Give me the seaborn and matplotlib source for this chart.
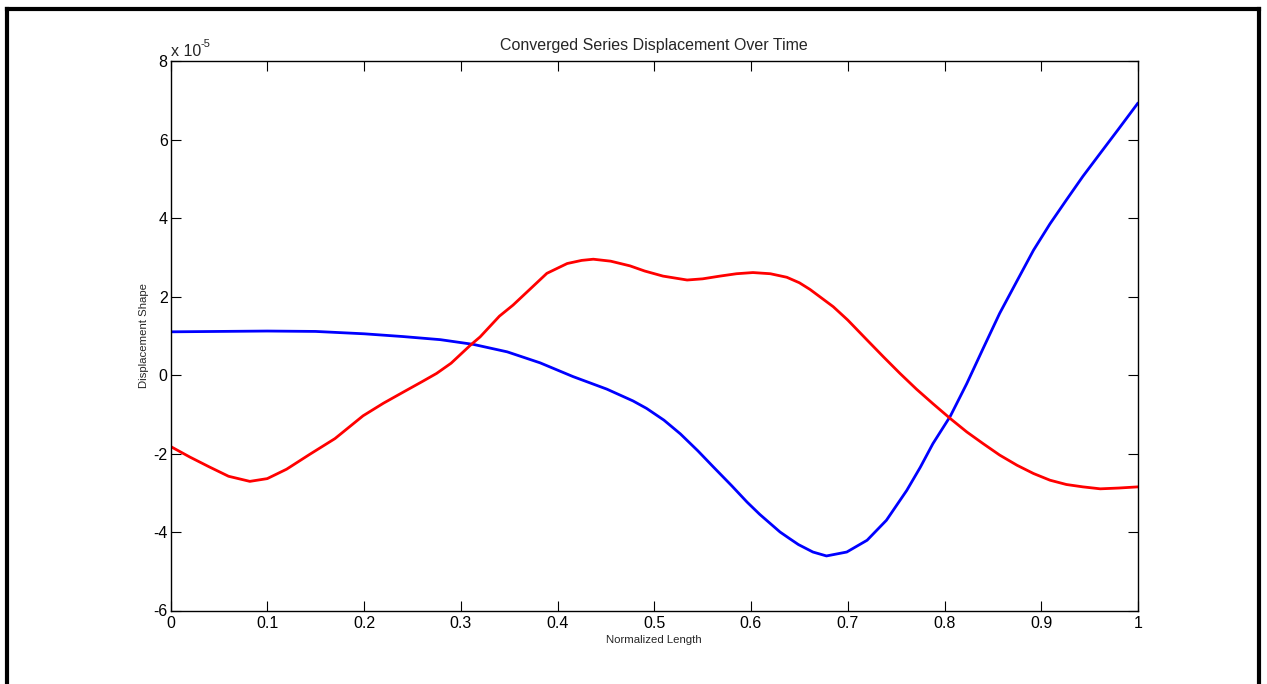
import numpy as np
import pandas as pd
import matplotlib
matplotlib.use("Agg")
import matplotlib.pyplot as plt
from matplotlib.lines import Line2D
import seaborn as sns

# ---- data (displacement in units of 1e-5) ----
blue_x = [0.0, 0.05, 0.10, 0.15, 0.20, 0.24, 0.279, 0.313, 0.348, 0.382, 0.416, 0.451,
          0.478, 0.492, 0.51, 0.527, 0.545, 0.561, 0.58, 0.596, 0.609, 0.63, 0.64,
          0.649, 0.664, 0.678, 0.699, 0.72, 0.74, 0.761, 0.775, 0.788, 0.806,
          0.823, 0.84, 0.857, 0.875, 0.892, 0.909, 0.926, 0.943, 0.961, 0.98, 1.0]
blue_y = [1.10, 1.11, 1.12, 1.11, 1.05, 0.98, 0.90, 0.78, 0.59, 0.31, -0.04, -0.36,
          -0.66, -0.85, -1.15, -1.50, -1.93, -2.34, -2.82, -3.24, -3.55, -4.00, -4.17,
          -4.32, -4.51, -4.61, -4.51, -4.21, -3.70, -2.94, -2.35, -1.75, -1.05,
          -0.22, 0.68, 1.57, 2.40, 3.18, 3.85, 4.46, 5.06, 5.65, 6.27, 6.93]

red_x = [0.0, 0.02, 0.04, 0.06, 0.082, 0.10, 0.12, 0.144, 0.17, 0.199, 0.22, 0.241,
         0.26, 0.275, 0.29, 0.31, 0.32, 0.34, 0.354, 0.37, 0.389, 0.41, 0.425, 0.437,
         0.455, 0.475, 0.49, 0.509, 0.534, 0.55, 0.568, 0.585, 0.602, 0.62, 0.637, 0.65,
         0.661, 0.685, 0.70, 0.72, 0.737, 0.754, 0.771, 0.788, 0.806, 0.823, 0.84,
         0.857, 0.875, 0.892, 0.909, 0.926, 0.943, 0.961, 0.98, 1.0]
red_y = [-1.82, -2.09, -2.34, -2.58, -2.71, -2.64, -2.40, -2.02, -1.62, -1.04, -0.72, -0.43,
         -0.17, 0.04, 0.30, 0.76, 0.97, 1.50, 1.78, 2.15, 2.59, 2.84, 2.92, 2.95,
         2.90, 2.78, 2.65, 2.52, 2.42, 2.45, 2.52, 2.58, 2.61, 2.58, 2.49, 2.35,
         2.18, 1.74, 1.40, 0.89, 0.46, 0.04, -0.36, -0.73, -1.11, -1.45, -1.75,
         -2.04, -2.30, -2.51, -2.68, -2.79, -2.85, -2.90, -2.88, -2.85]

x_ticks = [0, 0.1, 0.2, 0.3, 0.4, 0.5, 0.6, 0.7, 0.8, 0.9, 1]
x_tick_labels = ["0", "0.1", "0.2", "0.3", "0.4", "0.5", "0.6", "0.7", "0.8", "0.9", "1"]
y_ticks = [-6, -4, -2, 0, 2, 4, 6, 8]
y_tick_labels = ["-6", "-4", "-2", "0", "2", "4", "6", "8"]

title = "Converged Series Displacement Over Time"
xlabel = "Normalized Length"
ylabel = "Displacement Shape"

# ---- style ----
sns.set_style("white")
plt.rcParams["font.family"] = ["Liberation Sans", "DejaVu Sans"]

W, H = 1267, 684
fig = plt.figure(figsize=(W / 100, H / 100), dpi=100)
ax = fig.add_axes([170.5 / W, 1 - 610.5 / H, (1138 - 170.5) / W, (610.5 - 61) / H])

sns.lineplot(x=blue_x, y=blue_y, ax=ax, color=(0, 0, 1), linewidth=2.0, sort=False)
sns.lineplot(x=red_x, y=red_y, ax=ax, color=(1, 0, 0), linewidth=2.0, sort=False)

ax.set_xlim(0, 1)
ax.set_ylim(-6, 8)
ax.set_xticks(x_ticks)
ax.set_xticklabels(x_tick_labels)
ax.set_yticks(y_ticks)
ax.set_yticklabels(y_tick_labels)

ax.tick_params(direction="in", length=7, width=0.8, colors="black", labelsize=11.5,
               top=True, right=True, bottom=True, left=True)
ax.tick_params(axis="x", pad=4)
ax.tick_params(axis="y", pad=2)
for s in ax.spines.values():
    s.set_visible(True)
    s.set_color("black")
    s.set_linewidth(1.0)

ax.set_title(title, fontsize=11.5, pad=8)
ax.set_xlabel(xlabel, fontsize=8.2)
ax.set_ylabel(ylabel, fontsize=8.2)
ax.xaxis.set_label_coords(0.5, -(635 - 610.5) / 549.5)
ax.yaxis.set_label_coords(-(170.5 - 149) / 967.5, 0.5)

# MATLAB-style exponent label
ax.text(0.0, 1.004, "x 10", transform=ax.transAxes, ha="left", va="bottom", fontsize=11.5)
ax.text((200 - 170.5) / 967.5, 1.022, "-5", transform=ax.transAxes, ha="left", va="bottom", fontsize=8)

# figure border (left, top, right)
lw = 3.0
fig.add_artist(Line2D([7 / W, 7 / W], [0, 1 - 8.5 / H], transform=fig.transFigure, color="black", linewidth=lw, solid_capstyle="projecting"))
fig.add_artist(Line2D([7 / W, 1258.5 / W], [1 - 8.5 / H, 1 - 8.5 / H], transform=fig.transFigure, color="black", linewidth=lw, solid_capstyle="projecting"))
fig.add_artist(Line2D([1258.5 / W, 1258.5 / W], [0, 1 - 8.5 / H], transform=fig.transFigure, color="black", linewidth=lw, solid_capstyle="projecting"))

fig.savefig("out.png", dpi=100)
